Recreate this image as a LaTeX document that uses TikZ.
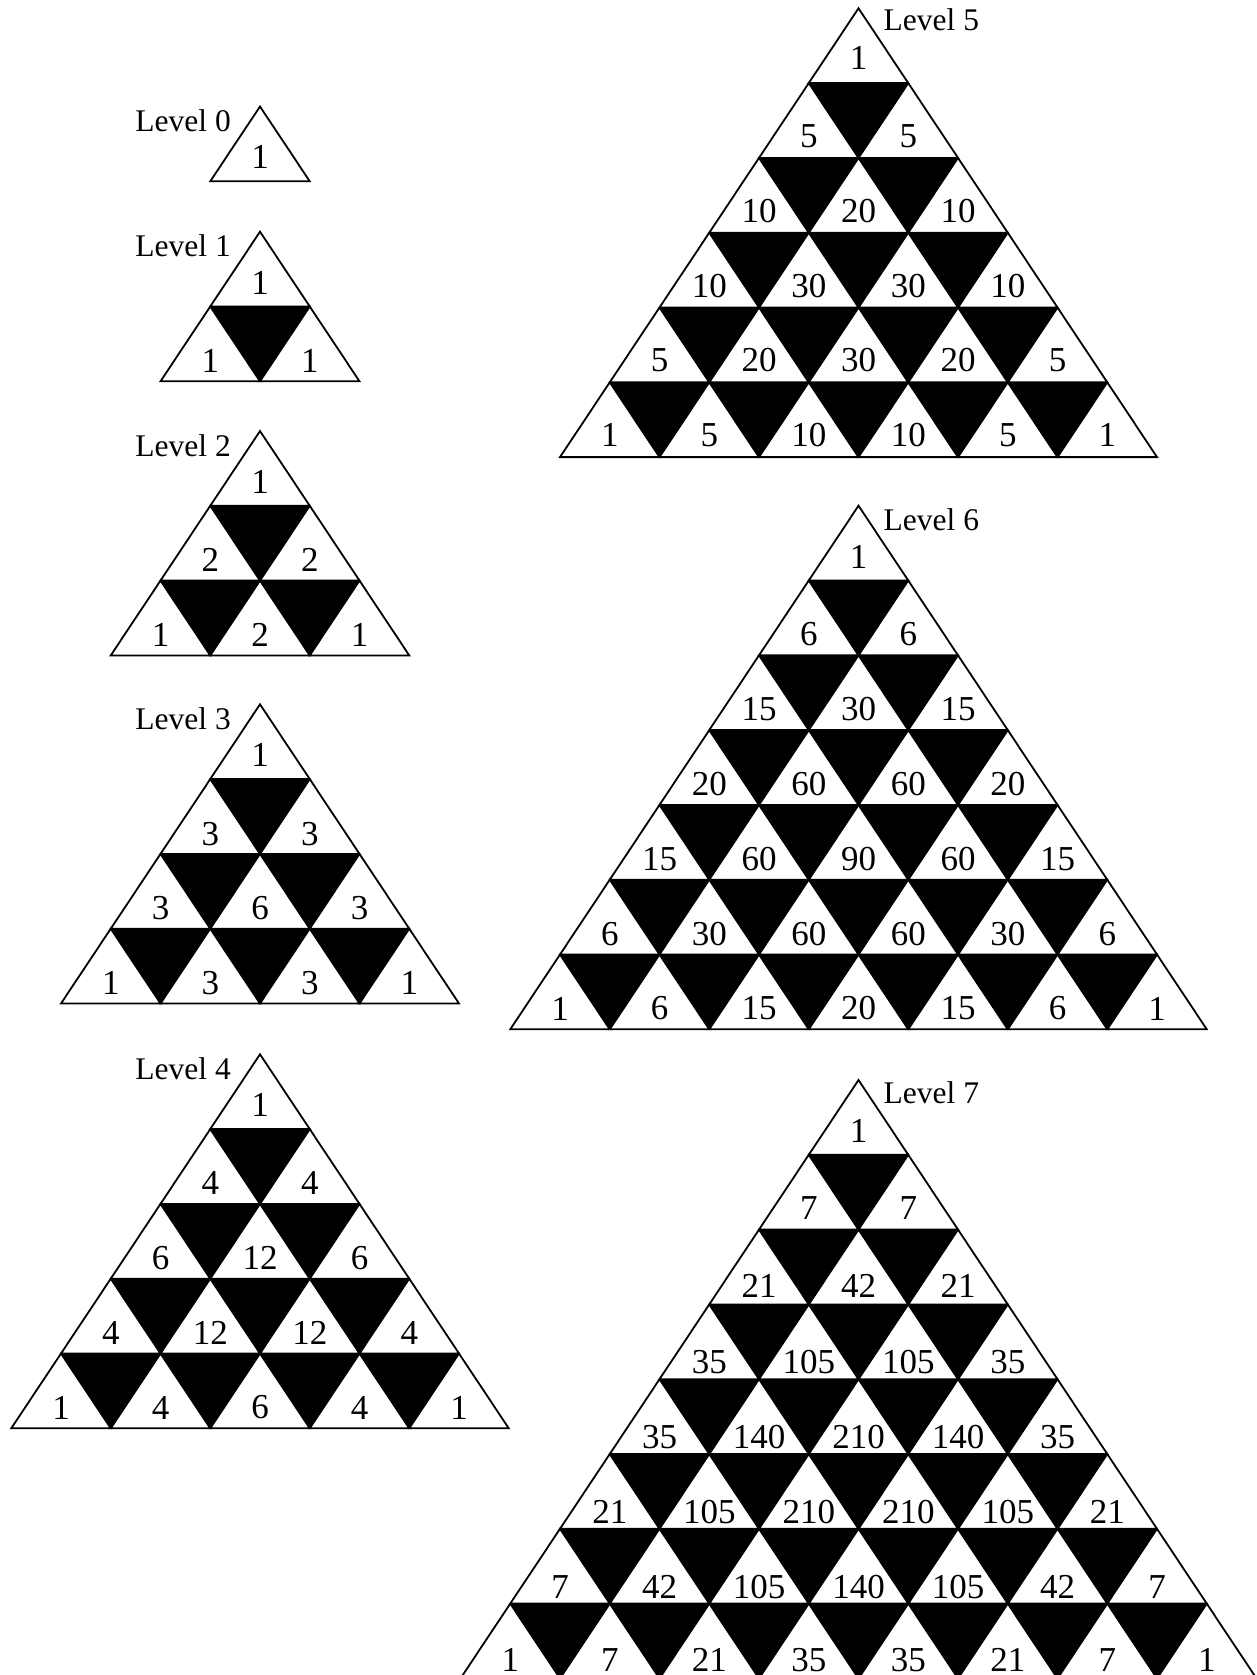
\documentclass[tikz,border=0pt]{standalone}
\usepackage{fontspec}
\setmainfont{Liberation Serif}
\def\triW{99.5}
\def\triH{74.8}
\tikzset{
  tri/.style={draw=black, line width=1.8pt, line join=miter},
  blk/.style={fill=black},
  num/.style={inner sep=0pt, anchor=center, font=\fontsize{35}{42}\selectfont},
  lab/.style={inner sep=0pt, font=\fontsize{31.5}{38}\selectfont}
}
% #1 name, #2 apex x, #3 apex y, #4 rows, #5 vertical offset of the numbers (may use \r)
\newcommand\pyramid[5]{%
  \foreach \row [count=\r from 0] in {#4} {
    \foreach \v [count=\k from 0] in \row {
      \pgfmathsetmacro\cx{#2+(\k-\r/2)*\triW}
      \pgfmathsetmacro\ty{#3+\r*\triH}
      \pgfmathsetmacro\off{#5}
      \ifnum\k<\r
        \fill[blk] (\cx,\ty) -- (\cx+\triW,\ty) -- (\cx+\triW/2,\ty+\triH) -- cycle;
      \fi
      \draw[tri] (\cx,\ty) -- (\cx-\triW/2,\ty+\triH) -- (\cx+\triW/2,\ty+\triH) -- cycle;
      \node[num] (#1-\r-\k) at (\cx,\ty+\off) {\v};
    }
  }
}
\begin{document}
\begin{tikzpicture}[x=1pt,y=-1pt]
\useasboundingbox (0,0) rectangle (1257,1675);
\clip (0,0) rectangle (1257,1675);
% left column
\pyramid{L0}{260}{106.5}{{1}}{50.5}
\node[lab, anchor=base east] (lab0) at (231,131.5) {Level 0};
\pyramid{L1}{260}{231.7}{{1},{1,1}}{\r==0 ? 51 : 54.5}
\node[lab, anchor=base east] (lab1) at (231,256.7) {Level 1};
\pyramid{L2}{260}{431}{{1},{2,2},{1,2,1}}{\r==0 ? 51 : 54.5}
\node[lab, anchor=base east] (lab2) at (231,456) {Level 2};
\pyramid{L3}{260}{704.3}{{1},{3,3},{3,6,3},{1,3,3,1}}{\r==0 ? 51 : 54.5}
\node[lab, anchor=base east] (lab3) at (231,729.3) {Level 3};
\pyramid{L4}{260}{1054.3}{{1},{4,4},{6,12,6},{4,12,12,4},{1,4,6,4,1}}{\r==0 ? 51 : 54}
\node[lab, anchor=base east] (lab4) at (231,1079.3) {Level 4};
% right column
\pyramid{L5}{858.5}{8.3}{{1},{5,5},{10,20,10},{10,30,30,10},{5,20,30,20,5},{1,5,10,10,5,1}}{\r==0 ? 50 : 53}
\node[lab, anchor=base west] (lab5) at (883.5,31) {Level 5};
\pyramid{L6}{858.5}{505.7}{{1},{6,6},{15,30,15},{20,60,60,20},{15,60,90,60,15},{6,30,60,60,30,6},{1,6,15,20,15,6,1}}{\r==0 ? 51 : 54}
\node[lab, anchor=base west] (lab6) at (883.5,530.5) {Level 6};
\pyramid{L7}{858.5}{1080}{{1},{7,7},{21,42,21},{35,105,105,35},{35,140,210,140,35},{21,105,210,210,105,21},{7,42,105,140,105,42,7},{1,7,21,35,35,21,7,1}}{\r==0 ? 50.5 : (\r==7 ? 56.5 : min(51+2.5*\r,58))}
\node[lab, anchor=base west] (lab7) at (883.5,1103.5) {Level 7};
\end{tikzpicture}
\end{document}
